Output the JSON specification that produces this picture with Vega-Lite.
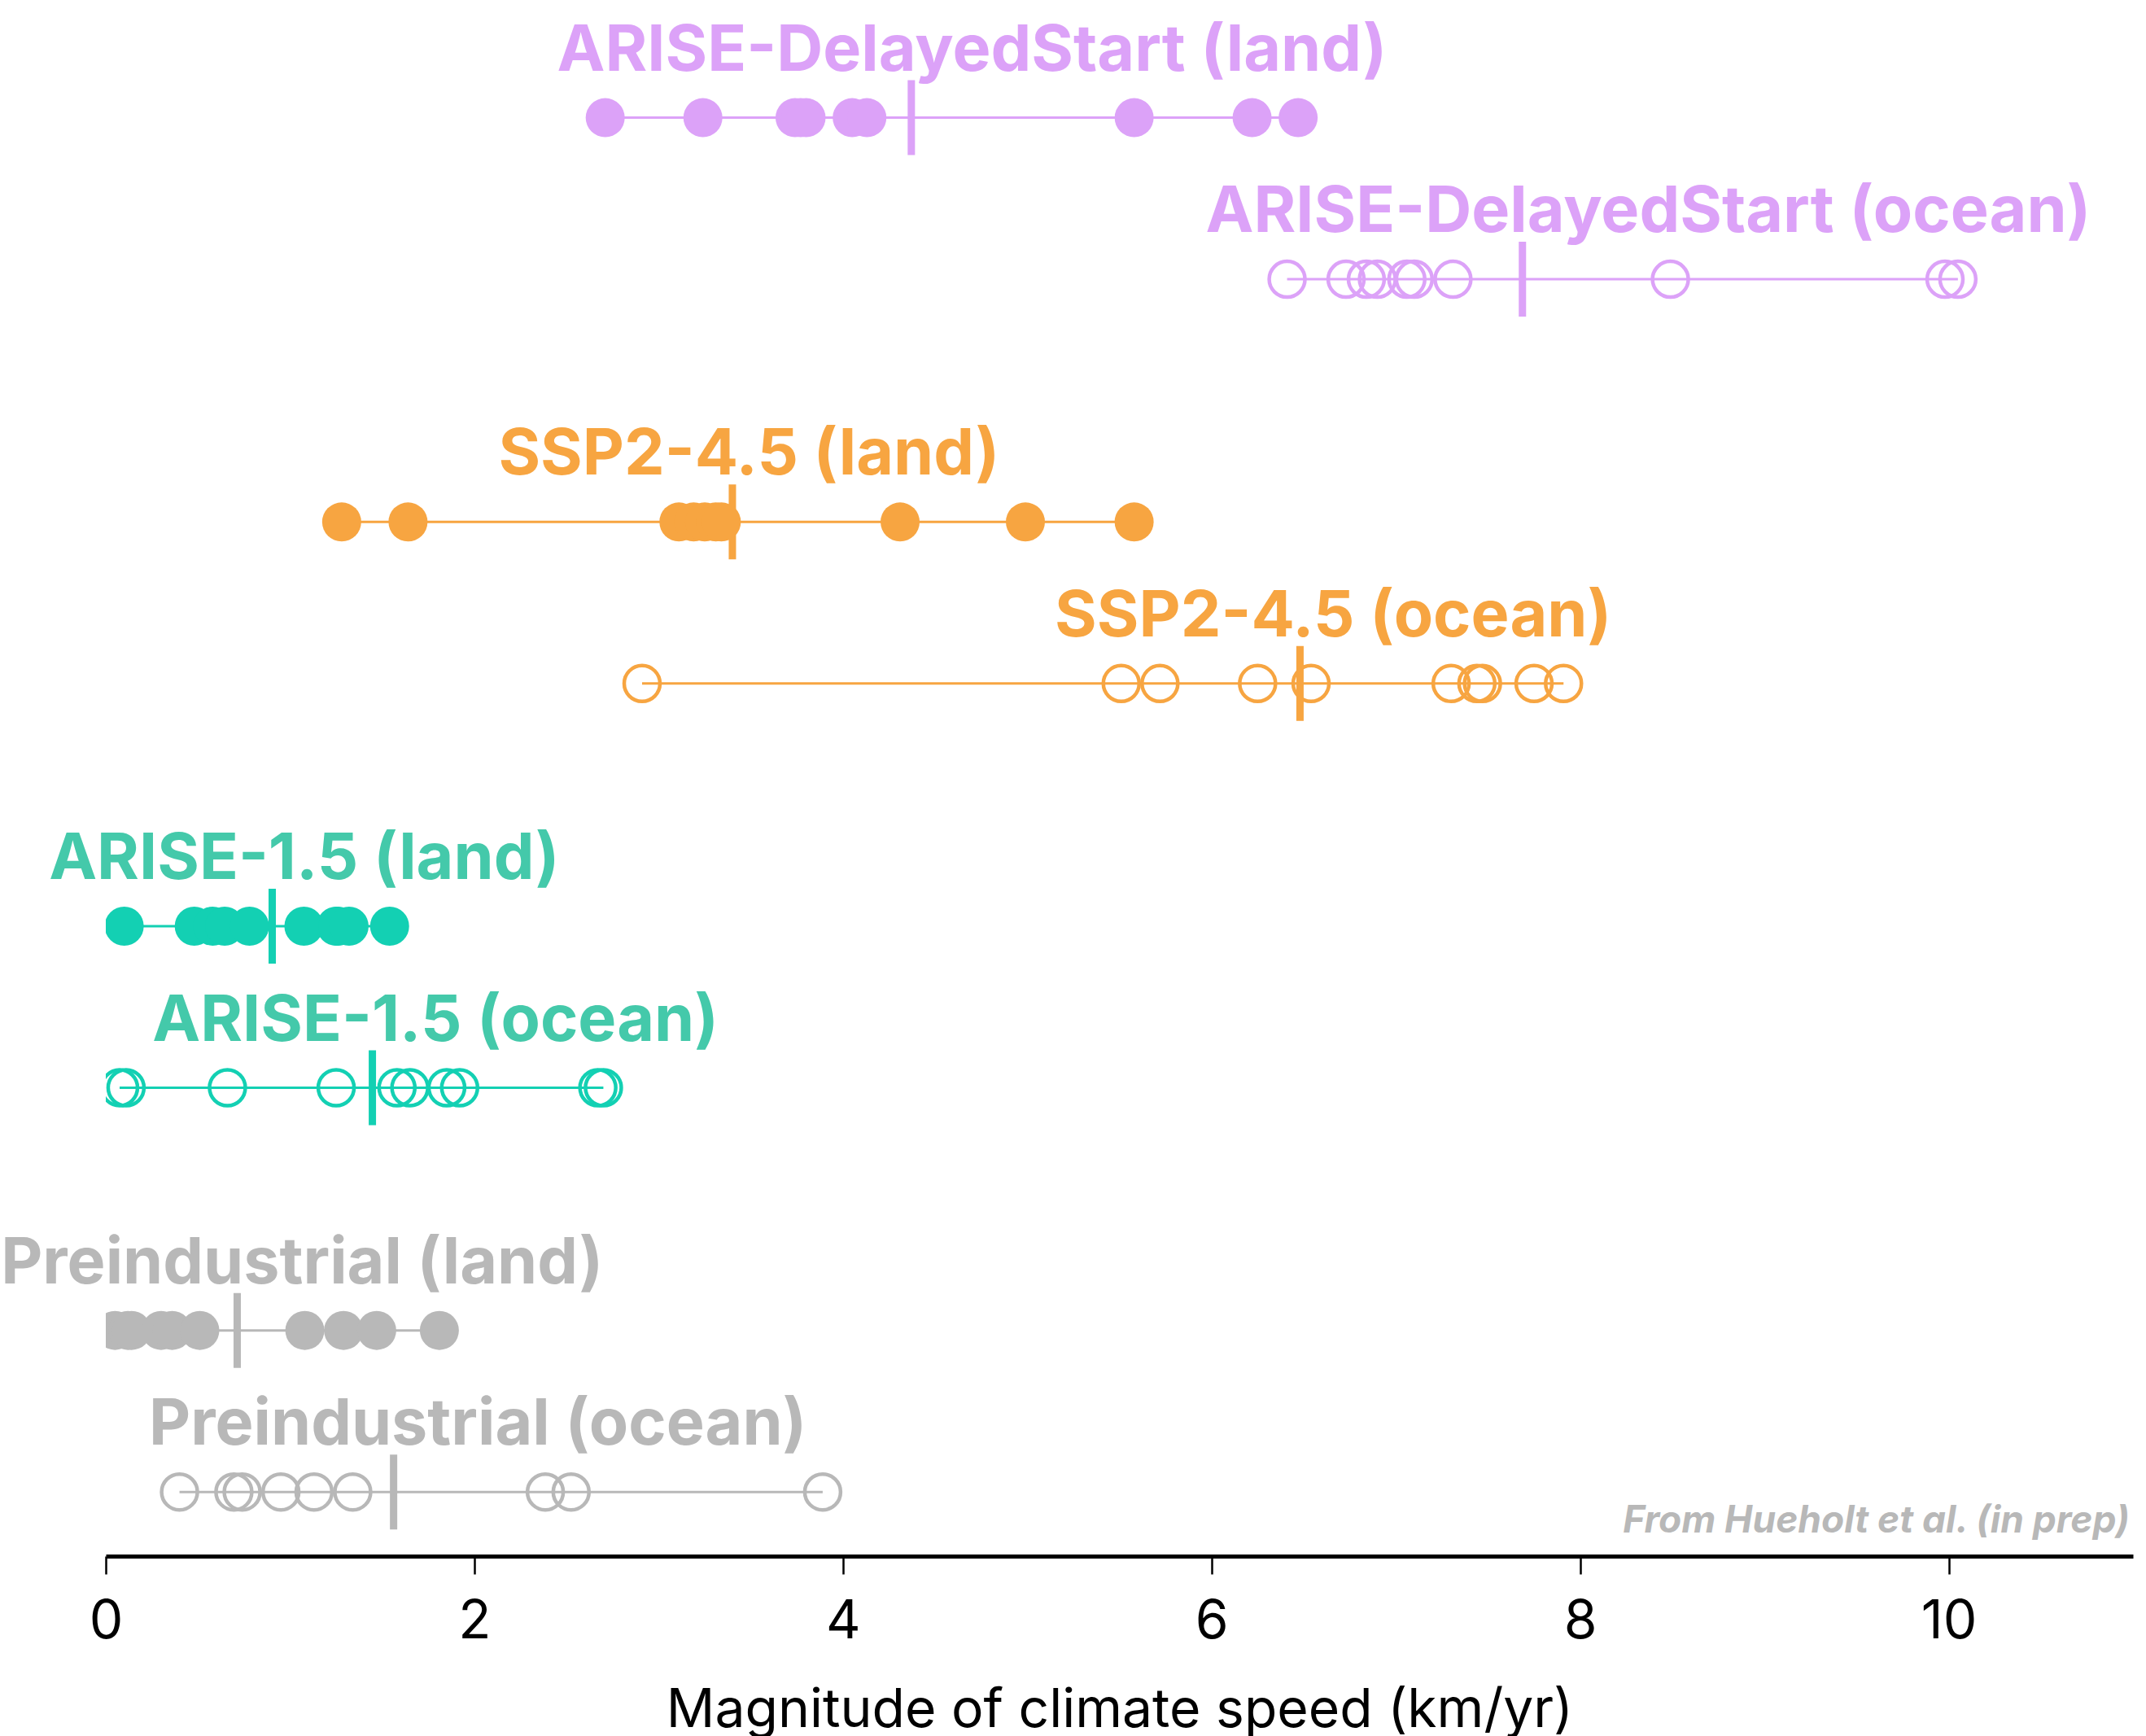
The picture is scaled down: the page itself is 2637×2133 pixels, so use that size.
{
  "$schema": "https://vega.github.io/schema/vega-lite/v6.json",
  "width": 2491,
  "height": 1912,
  "autosize": {"type": "none"},
  "padding": {"left": 130, "top": 0, "right": 16, "bottom": 221},
  "background": "white",
  "config": {"view": {"stroke": null}, "font": "Inter"},
  "datasets": {
    "speeds": [
      {"scenario": "ARISE-DelayedStart", "surface": "land", "v": 2.71},
      {"scenario": "ARISE-DelayedStart", "surface": "land", "v": 3.24},
      {"scenario": "ARISE-DelayedStart", "surface": "land", "v": 3.74},
      {"scenario": "ARISE-DelayedStart", "surface": "land", "v": 3.77},
      {"scenario": "ARISE-DelayedStart", "surface": "land", "v": 3.80},
      {"scenario": "ARISE-DelayedStart", "surface": "land", "v": 4.05},
      {"scenario": "ARISE-DelayedStart", "surface": "land", "v": 4.13},
      {"scenario": "ARISE-DelayedStart", "surface": "land", "v": 5.58},
      {"scenario": "ARISE-DelayedStart", "surface": "land", "v": 6.22},
      {"scenario": "ARISE-DelayedStart", "surface": "land", "v": 6.47},
      {"scenario": "ARISE-DelayedStart", "surface": "ocean", "v": 6.41},
      {"scenario": "ARISE-DelayedStart", "surface": "ocean", "v": 6.73},
      {"scenario": "ARISE-DelayedStart", "surface": "ocean", "v": 6.84},
      {"scenario": "ARISE-DelayedStart", "surface": "ocean", "v": 6.90},
      {"scenario": "ARISE-DelayedStart", "surface": "ocean", "v": 7.06},
      {"scenario": "ARISE-DelayedStart", "surface": "ocean", "v": 7.10},
      {"scenario": "ARISE-DelayedStart", "surface": "ocean", "v": 7.31},
      {"scenario": "ARISE-DelayedStart", "surface": "ocean", "v": 8.49},
      {"scenario": "ARISE-DelayedStart", "surface": "ocean", "v": 9.98},
      {"scenario": "ARISE-DelayedStart", "surface": "ocean", "v": 10.05},
      {"scenario": "SSP2-4.5", "surface": "land", "v": 1.28},
      {"scenario": "SSP2-4.5", "surface": "land", "v": 1.64},
      {"scenario": "SSP2-4.5", "surface": "land", "v": 3.11},
      {"scenario": "SSP2-4.5", "surface": "land", "v": 3.19},
      {"scenario": "SSP2-4.5", "surface": "land", "v": 3.25},
      {"scenario": "SSP2-4.5", "surface": "land", "v": 3.31},
      {"scenario": "SSP2-4.5", "surface": "land", "v": 3.34},
      {"scenario": "SSP2-4.5", "surface": "land", "v": 4.31},
      {"scenario": "SSP2-4.5", "surface": "land", "v": 4.99},
      {"scenario": "SSP2-4.5", "surface": "land", "v": 5.58},
      {"scenario": "SSP2-4.5", "surface": "ocean", "v": 2.91},
      {"scenario": "SSP2-4.5", "surface": "ocean", "v": 5.51},
      {"scenario": "SSP2-4.5", "surface": "ocean", "v": 5.72},
      {"scenario": "SSP2-4.5", "surface": "ocean", "v": 6.25},
      {"scenario": "SSP2-4.5", "surface": "ocean", "v": 6.54},
      {"scenario": "SSP2-4.5", "surface": "ocean", "v": 7.30},
      {"scenario": "SSP2-4.5", "surface": "ocean", "v": 7.44},
      {"scenario": "SSP2-4.5", "surface": "ocean", "v": 7.47},
      {"scenario": "SSP2-4.5", "surface": "ocean", "v": 7.75},
      {"scenario": "SSP2-4.5", "surface": "ocean", "v": 7.91},
      {"scenario": "ARISE-1.5", "surface": "land", "v": 0.10},
      {"scenario": "ARISE-1.5", "surface": "land", "v": 0.48},
      {"scenario": "ARISE-1.5", "surface": "land", "v": 0.58},
      {"scenario": "ARISE-1.5", "surface": "land", "v": 0.645},
      {"scenario": "ARISE-1.5", "surface": "land", "v": 0.78},
      {"scenario": "ARISE-1.5", "surface": "land", "v": 1.075},
      {"scenario": "ARISE-1.5", "surface": "land", "v": 1.25},
      {"scenario": "ARISE-1.5", "surface": "land", "v": 1.26},
      {"scenario": "ARISE-1.5", "surface": "land", "v": 1.32},
      {"scenario": "ARISE-1.5", "surface": "land", "v": 1.54},
      {"scenario": "ARISE-1.5", "surface": "ocean", "v": 0.075},
      {"scenario": "ARISE-1.5", "surface": "ocean", "v": 0.11},
      {"scenario": "ARISE-1.5", "surface": "ocean", "v": 0.66},
      {"scenario": "ARISE-1.5", "surface": "ocean", "v": 1.25},
      {"scenario": "ARISE-1.5", "surface": "ocean", "v": 1.58},
      {"scenario": "ARISE-1.5", "surface": "ocean", "v": 1.65},
      {"scenario": "ARISE-1.5", "surface": "ocean", "v": 1.85},
      {"scenario": "ARISE-1.5", "surface": "ocean", "v": 1.92},
      {"scenario": "ARISE-1.5", "surface": "ocean", "v": 2.67},
      {"scenario": "ARISE-1.5", "surface": "ocean", "v": 2.70},
      {"scenario": "Preindustrial", "surface": "land", "v": 0.05},
      {"scenario": "Preindustrial", "surface": "land", "v": 0.12},
      {"scenario": "Preindustrial", "surface": "land", "v": 0.14},
      {"scenario": "Preindustrial", "surface": "land", "v": 0.30},
      {"scenario": "Preindustrial", "surface": "land", "v": 0.36},
      {"scenario": "Preindustrial", "surface": "land", "v": 0.51},
      {"scenario": "Preindustrial", "surface": "land", "v": 1.08},
      {"scenario": "Preindustrial", "surface": "land", "v": 1.29},
      {"scenario": "Preindustrial", "surface": "land", "v": 1.47},
      {"scenario": "Preindustrial", "surface": "land", "v": 1.81},
      {"scenario": "Preindustrial", "surface": "ocean", "v": 0.40},
      {"scenario": "Preindustrial", "surface": "ocean", "v": 0.695},
      {"scenario": "Preindustrial", "surface": "ocean", "v": 0.74},
      {"scenario": "Preindustrial", "surface": "ocean", "v": 0.95},
      {"scenario": "Preindustrial", "surface": "ocean", "v": 1.13},
      {"scenario": "Preindustrial", "surface": "ocean", "v": 1.34},
      {"scenario": "Preindustrial", "surface": "ocean", "v": 2.385},
      {"scenario": "Preindustrial", "surface": "ocean", "v": 2.525},
      {"scenario": "Preindustrial", "surface": "ocean", "v": 3.89}
    ],
    "labels": [
      {"scenario": "ARISE-DelayedStart", "surface": "land", "label": "ARISE-DelayedStart (land)", "lx": 4.70},
      {"scenario": "ARISE-DelayedStart", "surface": "ocean", "label": "ARISE-DelayedStart (ocean)", "lx": 8.37},
      {"scenario": "SSP2-4.5", "surface": "land", "label": "SSP2-4.5 (land)", "lx": 3.49},
      {"scenario": "SSP2-4.5", "surface": "ocean", "label": "SSP2-4.5 (ocean)", "lx": 6.66},
      {"scenario": "ARISE-1.5", "surface": "land", "label": "ARISE-1.5 (land)", "lx": 1.077},
      {"scenario": "ARISE-1.5", "surface": "ocean", "label": "ARISE-1.5 (ocean)", "lx": 1.789},
      {"scenario": "Preindustrial", "surface": "land", "label": "Preindustrial (land)", "lx": 1.065},
      {"scenario": "Preindustrial", "surface": "ocean", "label": "Preindustrial (ocean)", "lx": 2.019}
    ],
    "credit": [{"t": "From Hueholt et al. (in prep)"}]
  },
  "layer": [
    {
      "data": {"name": "speeds"},
      "mark": {"type": "rule", "strokeWidth": 3, "clip": true},
      "encoding": {
        "x": {"aggregate": "min", "field": "v", "type": "quantitative",
          "scale": {"domain": [0, 11], "nice": false, "zero": false},
          "axis": {"title": "Magnitude of climate speed (km/yr)", "values": [0, 2, 4, 6, 8, 10], "format": "d", "grid": false, "labelFlush": false,
            "domainColor": "black", "domainWidth": 5, "tickColor": "black", "tickWidth": 2.5, "tickSize": 22,
            "labelFontSize": 66, "labelColor": "black", "labelPadding": 26, "labelFont": "Inter",
            "titleFontSize": 66, "titleFontWeight": "normal", "titleColor": "black", "titlePadding": 44, "titleFont": "Inter"}},
        "x2": {"aggregate": "max", "field": "v"},
        "y": {"field": "scenario", "type": "nominal",
          "scale": {"domain": ["ARISE-DelayedStart", "SSP2-4.5", "ARISE-1.5", "Preindustrial"], "range": [-4.5, 1982.3], "paddingInner": 0, "paddingOuter": 0},
          "axis": null},
        "yOffset": {"field": "surface", "type": "nominal", "scale": {"type": "point", "domain": ["land", "ocean"], "range": [149.1, 347.6], "padding": 0}},
        "color": {"field": "scenario", "type": "nominal",
          "scale": {"domain": ["ARISE-DelayedStart", "SSP2-4.5", "ARISE-1.5", "Preindustrial"], "range": ["#dca2f8", "#f7a541", "#13d0b3", "#b8b8b8"]},
          "legend": null}
      }
    },
    {
      "data": {"name": "speeds"},
      "mark": {"type": "tick", "orient": "vertical", "size": 92, "thickness": 9, "opacity": 1, "clip": true},
      "encoding": {
        "x": {"aggregate": "mean", "field": "v", "type": "quantitative"},
        "y": {"field": "scenario", "type": "nominal"},
        "yOffset": {"field": "surface", "type": "nominal"},
        "color": {"field": "scenario", "type": "nominal",
          "scale": {"domain": ["ARISE-DelayedStart", "SSP2-4.5", "ARISE-1.5", "Preindustrial"], "range": ["#dca2f8", "#f7a541", "#13d0b3", "#b8b8b8"]},
          "legend": null}
      }
    },
    {
      "data": {"name": "speeds"},
      "transform": [{"filter": "datum.surface === 'land'"}],
      "mark": {"type": "circle", "size": 2304, "opacity": 1, "clip": true},
      "encoding": {
        "x": {"field": "v", "type": "quantitative"},
        "y": {"field": "scenario", "type": "nominal"},
        "yOffset": {"field": "surface", "type": "nominal"},
        "color": {"field": "scenario", "type": "nominal",
          "scale": {"domain": ["ARISE-DelayedStart", "SSP2-4.5", "ARISE-1.5", "Preindustrial"], "range": ["#dca2f8", "#f7a541", "#13d0b3", "#b8b8b8"]},
          "legend": null}
      }
    },
    {
      "data": {"name": "speeds"},
      "transform": [{"filter": "datum.surface === 'ocean'"}],
      "mark": {"type": "point", "shape": "circle", "filled": false, "size": 1936, "strokeWidth": 4.5, "opacity": 1, "clip": true},
      "encoding": {
        "x": {"field": "v", "type": "quantitative"},
        "y": {"field": "scenario", "type": "nominal"},
        "yOffset": {"field": "surface", "type": "nominal"},
        "color": {"field": "scenario", "type": "nominal",
          "scale": {"domain": ["ARISE-DelayedStart", "SSP2-4.5", "ARISE-1.5", "Preindustrial"], "range": ["#dca2f8", "#f7a541", "#13d0b3", "#b8b8b8"]},
          "legend": null}
      }
    },
    {
      "data": {"name": "labels"},
      "mark": {"type": "text", "fontWeight": "bold", "fontSize": 79, "align": "center", "baseline": "alphabetic", "dy": -58, "font": "Inter"},
      "encoding": {
        "x": {"field": "lx", "type": "quantitative"},
        "y": {"field": "scenario", "type": "nominal"},
        "yOffset": {"field": "surface", "type": "nominal"},
        "text": {"field": "label"},
        "color": {"field": "scenario", "type": "nominal",
          "scale": {"domain": ["ARISE-DelayedStart", "SSP2-4.5", "ARISE-1.5", "Preindustrial"], "range": ["#dca2f8", "#f7a541", "#44c9aa", "#b8b8b8"]},
          "legend": null}
      }
    },
    {
      "data": {"name": "credit"},
      "mark": {"type": "text", "fontWeight": "bold", "fontStyle": "italic", "fontSize": 46, "align": "right", "baseline": "alphabetic", "dy": 50, "dx": -4, "color": "#b8b8b8", "font": "Inter"},
      "encoding": {
        "x": {"datum": 11, "type": "quantitative"},
        "y": {"datum": "Preindustrial", "type": "nominal"},
        "yOffset": {"datum": "ocean", "type": "nominal"},
        "text": {"field": "t"}
      }
    }
  ],
  "resolve": {"scale": {"color": "independent"}}
}
